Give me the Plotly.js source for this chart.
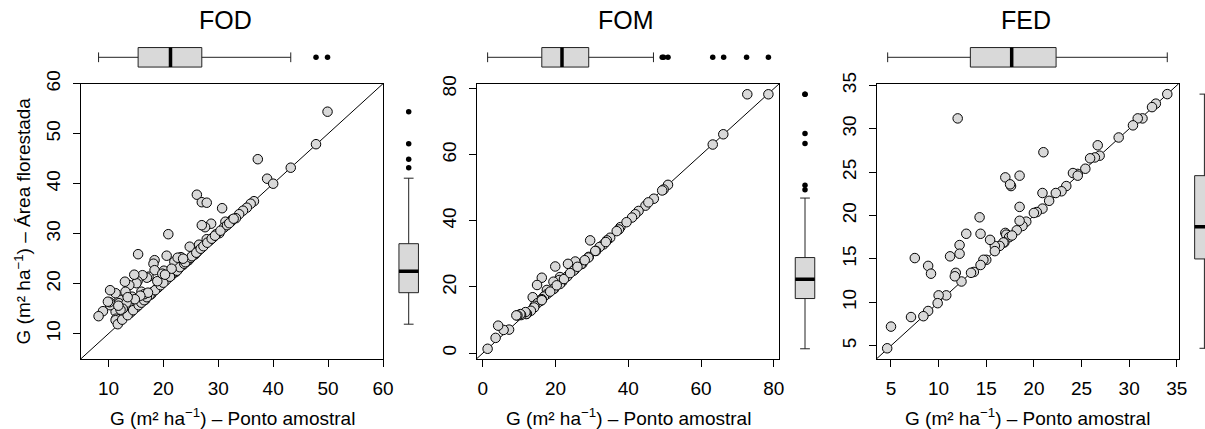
<!DOCTYPE html>
<html>
<head>
<meta charset="utf-8">
<script src="https://cdn.plot.ly/plotly-3.0.1.min.js"></script>
<style>html,body{margin:0;padding:0;background:#fff;}#plot{width:1205px;height:429px;}</style>
</head>
<body>
<div id="plot"></div>
<script>
// ---------------- DATA ----------------
const panelNames = ['FOD', 'FOM', 'FED'];

const fodX = [49.9,47.8,43.2,37.2,38.9,40.0,36.5,35.9,35.2,34.5,33.8,33.2,32.5,32.3,31.3,31.0,30.7,30.2,29.6,29.1,28.7,28.5,27.9,27.6,27.0,27.0,26.5,26.1,27.0,27.9,26.3,25.8,25.5,24.8,24.6,24.2,23.2,23.5,22.4,22.8,22.0,22.2,21.5,21.9,20.9,20.6,21.0,20.5,20.1,19.9,19.6,19.3,19.2,19.0,18.4,18.2,18.4,18.0,17.8,17.3,17.0,17.5,16.7,16.2,16.2,16.0,15.4,15.3,15.1,15.1,15.1,14.7,14.3,14.1,14.0,13.8,13.6,13.1,13.0,12.8,12.4,12.0,11.9,11.3,11.3,11.4,11.3,11.7,10.3,10.3,10.2,9.9,9.0,8.2,
  12.5,13.5,14.5,15.5,16.0,16.5,17.0,18.5,19.5,20.0,21.2,22.5,23.0,23.8,24.0,25.0,25.2,26.0,26.8,27.3,28.0,28.8,29.4,30.4,31.6,32.0,32.8,
  16.5,17.2,15.8,18.9,19.8,21.5,22.6,23.6,20.3,14.8,13.3,12.6,12.2,11.8,13.5];
const fodY = [54.4,47.9,43.2,44.9,41.0,40.0,36.5,36.0,35.2,34.6,33.9,33.1,32.8,32.4,32.4,31.2,35.1,30.1,29.9,29.3,32.0,28.7,28.9,31.3,31.7,27.2,27.8,37.8,36.3,36.2,26.5,25.9,25.7,27.4,24.7,24.4,25.3,23.7,24.6,23.0,24.4,22.3,21.7,22.4,29.9,25.6,21.3,20.7,22.6,21.1,20.4,19.6,19.8,19.2,24.7,24.0,22.7,18.3,17.9,21.4,21.2,17.7,16.8,21.7,16.9,18.4,25.9,20.5,20.1,15.9,15.3,21.8,17.4,15.7,14.2,19.7,15.9,18.4,20.4,14.0,13.8,16.8,16.1,18.1,14.4,13.0,12.7,11.9,18.7,15.7,16.3,16.4,14.5,13.5,
  12.8,13.7,14.7,15.7,16.2,16.7,17.3,18.7,19.7,20.2,21.4,22.6,23.3,24.0,24.3,25.2,25.5,26.2,27.0,27.5,28.2,29.0,29.6,30.6,31.7,32.1,33.0,
  17.9,18.2,17.6,20.5,22.0,23.0,25.2,25.0,21.8,16.9,16.2,15.0,14.8,15.6,17.3];

const fomX = [72.7,78.5,66.1,63.2,50.9,49.7,49.3,47.0,44.7,42.8,41.9,41.0,37.8,37.4,36.8,35.0,34.1,33.2,32.1,31.1,30.9,29.5,29.1,29.0,27.3,27.0,25.4,23.4,25.2,24.9,23.2,21.2,21.8,21.2,21.0,19.9,19.4,19.6,19.4,16.2,14.9,17.6,17.7,16.8,16.2,15.9,15.9,13.7,15.0,16.2,14.2,14.1,13.2,12.1,11.9,11.7,10.5,10.3,9.5,9.2,7.2,5.7,4.2,3.5,1.3,18.5,20.3,22.3,24.0,26.0,28.0,39.5,45.5,33.8];
const fomY = [78.3,78.3,66.2,63.1,50.9,49.5,49.2,46.7,44.6,43.0,42.0,41.0,38.1,37.4,36.9,34.9,34.1,32.9,32.1,30.9,30.9,34.1,29.1,28.9,27.0,26.9,27.7,27.0,25.2,24.9,23.2,23.0,21.6,20.9,22.1,26.2,21.6,19.5,19.4,22.8,20.6,19.1,17.9,17.1,16.3,16.1,15.8,16.9,15.1,16.0,14.3,13.8,12.8,11.9,11.8,12.4,11.5,11.8,11.4,11.4,7.1,7.0,8.3,4.6,1.3,18.6,20.5,22.4,24.2,26.1,28.1,39.6,45.6,33.6];

const fedX = [34.0,32.8,32.4,31.4,30.9,30.4,28.9,26.7,26.9,26.4,25.9,25.4,24.6,24.1,24.6,23.4,22.9,22.3,21.6,20.9,20.3,20.0,21.0,20.9,19.2,18.8,18.2,18.5,18.5,18.5,17.0,17.6,17.5,17.0,17.1,17.4,17.7,16.9,16.8,16.4,15.9,15.9,15.4,15.0,14.7,14.4,14.3,14.4,13.7,13.4,12.9,12.2,12.2,12.4,11.2,11.8,11.7,12.0,10.8,10.0,9.9,8.9,8.4,7.1,8.9,9.2,7.5,5.0,4.6];
const fedY = [34.0,32.9,32.5,31.2,31.2,30.4,29.0,28.1,26.9,26.7,26.6,25.4,24.8,24.9,24.6,23.4,22.8,22.6,21.7,20.8,20.4,20.3,27.3,22.6,19.3,18.8,18.3,19.4,21.0,24.6,24.4,23.4,23.6,18.0,17.8,17.5,17.7,16.9,16.9,16.5,16.5,15.9,17.2,14.9,14.9,14.3,19.8,17.9,13.5,13.4,17.9,16.6,15.6,12.4,15.3,13.4,13.0,31.2,10.8,10.8,9.9,9.0,8.4,8.3,14.2,13.3,15.1,7.2,4.7];

// box statistics: [lower whisker, Q1, median, Q3, upper whisker]
const fodTopBox = [8.2, 15.4, 21.3, 27.0, 43.2];
const fodTopOut = [47.8, 49.9];
const fodRightBox = [11.9, 18.2, 22.5, 28.0, 41.1];
const fodRightOut = [54.4, 48.0, 44.9, 43.2];

const fomTopBox = [1.3, 16.2, 21.75, 29.1, 46.9];
const fomTopOut = [49.3, 49.7, 50.9, 63.2, 66.2, 72.5, 78.5];
const fomRightBox = [1.3, 16.5, 22.3, 28.9, 46.9];
const fomRightOut = [49.4, 50.8, 63.4, 66.4, 78.3, 78.3];

const fedTopBox = [4.65, 13.33, 17.67, 22.33, 34.0];
const fedTopOut = [];
const fedRightBox = [4.7, 15.0, 18.7, 24.6, 34.0];
const fedRightOut = [];

const fodTicks = [10, 20, 30, 40, 50, 60];
const fomTicks = [0, 20, 40, 60, 80];
const fedTicks = [5, 10, 15, 20, 25, 30, 35];

const xTitle = 'G (m² ha<sup>−1</sup>) – Ponto amostral';
const yTitle = 'G (m² ha<sup>−1</sup>) – Área florestada';

// ---------------- LAYOUT ----------------
const W = 1205, H = 429;
const FONT = 'Liberation Sans, Arial, Helvetica, sans-serif';
const BOXFILL = '#D9D9D9';
const BOXW = 0.65;
const TICKSIZE = 19, LABSIZE = 19, TITLESIZE = 25;

const panels = [
  {x: fodX, y: fodY, ticks: fodTicks, range: [5, 60], px: [81, 383], tb: fodTopBox, to: fodTopOut, rb: fodRightBox, ro: fodRightOut, titleX: 225.5, rbCenter: 408.7},
  {x: fomX, y: fomY, ticks: fomTicks, range: [-1.7, 81.5], px: [476.7, 779.3], tb: fomTopBox, to: fomTopOut, rb: fomRightBox, ro: fomRightOut, titleX: 626.3, rbCenter: 805},
  {x: fedX, y: fedY, ticks: fedTicks, range: [3.5, 35.2], px: [876.7, 1178.7], tb: fedTopBox, to: fedTopOut, rb: fedRightBox, ro: fedRightOut, titleX: 1026.3, rbCenter: 1204.4}
];

const plotTop = 83.7, plotBot = 358.7;
const yDom = [1 - plotBot / H, 1 - plotTop / H];
const topBoxDom = [1 - 72.3 / H, 1 - 42.3 / H];

const layout = {
  width: W, height: H,
  margin: {l: 0, r: 0, t: 0, b: 0, pad: 0},
  paper_bgcolor: '#fff', plot_bgcolor: 'rgba(0,0,0,0)',
  showlegend: false,
  font: {family: FONT, color: '#000', size: TICKSIZE},
  shapes: [], annotations: []
};
const traces = [];

function mainAxis(dom, rng, ticks, anchor, isY) {
  return {
    domain: dom, range: rng, autorange: false, anchor: anchor,
    showline: true, mirror: true, linecolor: '#000', linewidth: 1,
    ticks: 'outside', ticklen: 7, tickwidth: 1, tickcolor: '#000',
    tickmode: 'array', tickvals: ticks, ticktext: ticks.map(String),
    tickfont: {family: FONT, size: TICKSIZE, color: '#000'},
    tickangle: isY ? -90 : 0,
    ticklabelstandoff: isY ? 5 : 5,
    showgrid: false, zeroline: false, fixedrange: true
  };
}

panels.forEach((p, i) => {
  const n = i + 1;
  const xs = n === 1 ? 'x' : 'x' + n;
  const ys = n === 1 ? 'y' : 'y' + n;
  const xKey = n === 1 ? 'xaxis' : 'xaxis' + n;
  const yKey = n === 1 ? 'yaxis' : 'yaxis' + n;
  const xDom = [p.px[0] / W, p.px[1] / W];
  layout[xKey] = mainAxis(xDom, p.range, p.ticks, ys, false);
  layout[yKey] = mainAxis(yDom, p.range, p.ticks, xs, true);

  // top box axis (y) and right box axis (x)
  const tbY = 'y' + (n + 3), tbKey = 'yaxis' + (n + 3);
  const rbX = 'x' + (n + 3), rbKey = 'xaxis' + (n + 3);
  layout[tbKey] = {domain: topBoxDom, range: [-0.5, 0.5], anchor: xs, visible: false, fixedrange: true};
  let rl = p.rbCenter - 15, rr = p.rbCenter + 15, rRange = [-0.5, 0.5];
  if (rr > W) { rRange = [-0.5, 0.5 - (rr - W) / 30]; rr = W; }
  layout[rbKey] = {domain: [rl / W, rr / W], range: rRange, anchor: ys, visible: false, fixedrange: true};

  // 1:1 line
  layout.shapes.push({type: 'line', xref: xs + ' domain', yref: ys + ' domain', x0: 0, y0: 0, x1: 1, y1: 1,
    line: {color: '#000', width: 1}, layer: 'below'});

  // scatter
  traces.push({type: 'scatter', mode: 'markers', x: p.x, y: p.y, xaxis: xs, yaxis: ys,
    marker: {size: 9.5, color: BOXFILL, line: {color: '#000', width: 1}}, hoverinfo: 'x+y', cliponaxis: false});

  // top boxplot (horizontal)
  traces.push({type: 'box', orientation: 'h', xaxis: xs, yaxis: tbY, y: [0],
    lowerfence: [p.tb[0]], q1: [p.tb[1]], median: [p.tb[2]], q3: [p.tb[3]], upperfence: [p.tb[4]],
    width: BOXW, whiskerwidth: 0.5, fillcolor: BOXFILL, line: {color: '#222', width: 1}, boxpoints: false, hoverinfo: 'none'});
  if (p.to.length) traces.push({type: 'scatter', mode: 'markers', xaxis: xs, yaxis: tbY, x: p.to, y: p.to.map(() => 0),
    marker: {size: 5.5, color: '#000'}, hoverinfo: 'x', cliponaxis: false});
  layout.shapes.push({type: 'line', xref: xs, yref: tbY, x0: p.tb[2], x1: p.tb[2], y0: -BOXW / 2, y1: BOXW / 2,
    line: {color: '#000', width: 3.5}});

  // right boxplot (vertical)
  traces.push({type: 'box', orientation: 'v', xaxis: rbX, yaxis: ys, x: [0],
    lowerfence: [p.rb[0]], q1: [p.rb[1]], median: [p.rb[2]], q3: [p.rb[3]], upperfence: [p.rb[4]],
    width: BOXW, whiskerwidth: 0.5, fillcolor: BOXFILL, line: {color: '#222', width: 1}, boxpoints: false, hoverinfo: 'none'});
  if (p.ro.length) traces.push({type: 'scatter', mode: 'markers', xaxis: rbX, yaxis: ys, x: p.ro.map(() => 0), y: p.ro,
    marker: {size: 5.5, color: '#000'}, hoverinfo: 'y', cliponaxis: false});
  layout.shapes.push({type: 'line', xref: rbX, yref: ys, x0: -BOXW / 2, x1: BOXW / 2, y0: p.rb[2], y1: p.rb[2],
    line: {color: '#000', width: 3.5}});

  // titles
  layout.annotations.push({text: panelNames[i], xref: 'paper', yref: 'paper', x: p.titleX / W, y: 1 - 20.3 / H,
    xanchor: 'center', yanchor: 'middle', showarrow: false, font: {family: FONT, size: TITLESIZE, color: '#000'}});
  layout.annotations.push({text: xTitle, xref: 'paper', yref: 'paper', x: (p.px[0] + p.px[1]) / 2 / W, y: 1 - 416.7 / H,
    xanchor: 'center', yanchor: 'middle', showarrow: false, font: {family: FONT, size: LABSIZE, color: '#000'}});
});

layout.annotations.push({text: yTitle, xref: 'paper', yref: 'paper', x: 22 / W, y: 1 - 221.5 / H,
  xanchor: 'center', yanchor: 'middle', textangle: -90, showarrow: false, font: {family: FONT, size: LABSIZE, color: '#000'}});

Plotly.newPlot('plot', traces, layout, {displayModeBar: false, staticPlot: true});
</script>
</body>
</html>
